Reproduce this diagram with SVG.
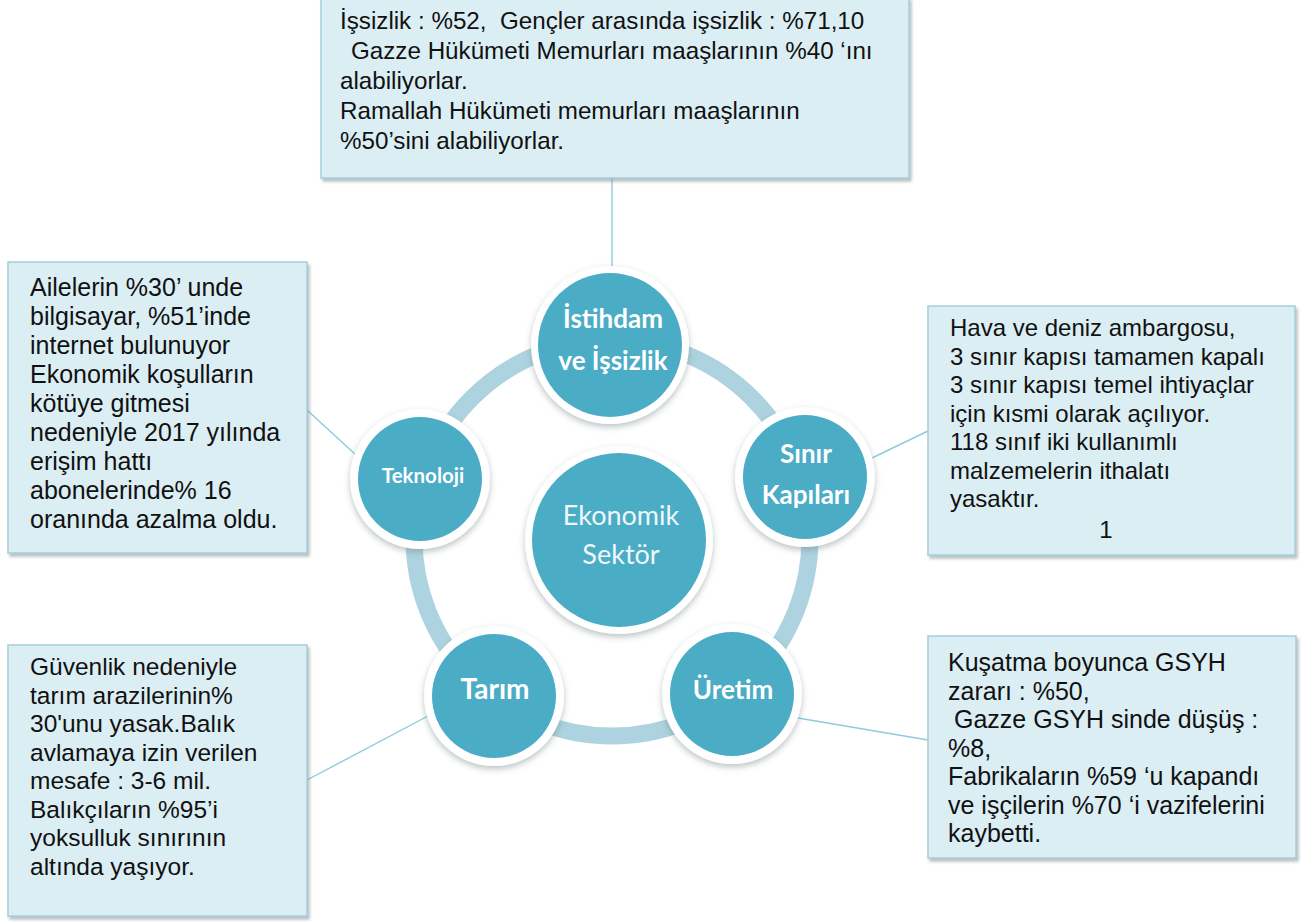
<svg xmlns="http://www.w3.org/2000/svg" width="1301" height="922" viewBox="0 0 1301 922">
<defs>
<filter id="bsh" x="-5%" y="-5%" width="115%" height="115%"><feDropShadow dx="2" dy="3" stdDeviation="1.5" flood-color="#7f8c90" flood-opacity="0.55"/></filter>
<filter id="csh" x="-20%" y="-20%" width="140%" height="140%"><feDropShadow dx="0" dy="3" stdDeviation="3" flood-color="#6b7b80" flood-opacity="0.45"/></filter>
<style>
.box{fill:#dbeef4;stroke:#a6cedb;stroke-width:1.5;filter:url(#bsh)}
.bt{font-family:"Liberation Sans",Arial,sans-serif;font-size:24.5px;fill:#111}
.con{stroke:#8ecbdc;stroke-width:1.4;fill:none}
.ring{fill:none;stroke:#acd3df;stroke-width:17}
.wo{fill:#ffffff;filter:url(#csh)}
.teal{fill:#4bacc6}
.nl{font-family:Lato,"Open Sans",sans-serif;font-weight:bold;fill:#ffffff;text-anchor:middle}
.cl{font-family:Lato,"Open Sans",sans-serif;fill:#eef8fb;text-anchor:middle;font-size:27px}
</style>
</defs>
<rect width="1301" height="922" fill="#ffffff"/>
<g id="connectors">
<line class="con" x1="612" y1="178" x2="612" y2="268"/>
<line class="con" x1="307" y1="410" x2="356" y2="455"/>
<line class="con" x1="928" y1="431" x2="872" y2="458"/>
<line class="con" x1="307" y1="780" x2="428" y2="716"/>
<line class="con" x1="928" y1="740" x2="798" y2="718"/>
</g>
<circle id="ring" class="ring" cx="612" cy="538" r="198"/>
<g id="node-center">
<circle class="wo" cx="619" cy="540" r="94"/>
<circle class="teal" cx="619" cy="540" r="87"/>
<text class="cl" x="621" y="525">Ekonomik</text>
<text class="cl" x="621" y="564">Sektör</text>
</g>
<g id="node-istihdam">
<circle class="wo" cx="610" cy="345" r="79"/>
<circle class="teal" cx="610" cy="345" r="72"/>
<text class="nl" x="613" y="328" font-size="26">İstihdam</text>
<text class="nl" x="613" y="370" font-size="26">ve İşsizlik</text>
</g>
<g id="node-sinir">
<circle class="wo" cx="805" cy="477" r="70"/>
<circle class="teal" cx="805" cy="477" r="62"/>
<text class="nl" x="806" y="463" font-size="26">Sınır</text>
<text class="nl" x="806" y="504" font-size="26">Kapıları</text>
</g>
<g id="node-uretim">
<circle class="wo" cx="732" cy="694" r="70"/>
<circle class="teal" cx="732" cy="694" r="62"/>
<text class="nl" x="733" y="699" font-size="26">Üretim</text>
</g>
<g id="node-tarim">
<circle class="wo" cx="494" cy="696" r="70"/>
<circle class="teal" cx="494" cy="696" r="62"/>
<text class="nl" x="495" y="699" font-size="28">Tarım</text>
</g>
<g id="node-teknoloji">
<circle class="wo" cx="420" cy="479" r="70"/>
<circle class="teal" cx="420" cy="479" r="62"/>
<text class="nl" x="423" y="483" font-size="20.5">Teknoloji</text>
</g>
<g id="box-istihdam">
<rect class="box" x="321" y="-2" width="588" height="180"/>
<g font-size="24.2">
<text class="bt" x="340" y="29" style="font-size:24.2px" xml:space="preserve">İşsizlik : %52,  Gençler arasında işsizlik : %71,10</text>
<text class="bt" x="351" y="59" style="font-size:24.2px">Gazze Hükümeti Memurları maaşlarının %40 ‘ını</text>
<text class="bt" x="340" y="89" style="font-size:24.2px">alabiliyorlar.</text>
<text class="bt" x="340" y="119" style="font-size:24.2px">Ramallah Hükümeti memurları maaşlarının</text>
<text class="bt" x="340" y="149" style="font-size:24.2px">%50’sini alabiliyorlar.</text>
</g>
</g>
<g id="box-teknoloji">
<rect class="box" x="8" y="262" width="299" height="291"/>
<text class="bt" x="30" y="296" style="font-size:25px">Ailelerin %30’ unde</text>
<text class="bt" x="30" y="325" style="font-size:25px">bilgisayar, %51’inde</text>
<text class="bt" x="30" y="354" style="font-size:25px">internet bulunuyor</text>
<text class="bt" x="30" y="383" style="font-size:25px">Ekonomik koşulların</text>
<text class="bt" x="30" y="412" style="font-size:25px">kötüye gitmesi</text>
<text class="bt" x="30" y="441" style="font-size:25px">nedeniyle 2017 yılında</text>
<text class="bt" x="30" y="470" style="font-size:25px">erişim hattı</text>
<text class="bt" x="30" y="499" style="font-size:25px">abonelerinde% 16</text>
<text class="bt" x="30" y="528" style="font-size:25px">oranında azalma oldu.</text>
</g>
<g id="box-sinir">
<rect class="box" x="928" y="306" width="367" height="249"/>
<text class="bt" x="950" y="336" style="font-size:24px">Hava ve deniz ambargosu,</text>
<text class="bt" x="950" y="364.5" style="font-size:24px">3 sınır kapısı tamamen kapalı</text>
<text class="bt" x="950" y="393" style="font-size:24px">3 sınır kapısı temel ihtiyaçlar</text>
<text class="bt" x="950" y="421.5" style="font-size:24px">için kısmi olarak açılıyor.</text>
<text class="bt" x="950" y="450" style="font-size:24px">118 sınıf iki kullanımlı</text>
<text class="bt" x="950" y="478.5" style="font-size:24px">malzemelerin ithalatı</text>
<text class="bt" x="950" y="507" style="font-size:24px">yasaktır.</text>
<text class="bt" x="1106" y="538" text-anchor="middle" style="font-size:24px">1</text>
</g>
<g id="box-tarim">
<rect class="box" x="8" y="645" width="299" height="271"/>
<text class="bt" x="30" y="675">Güvenlik nedeniyle</text>
<text class="bt" x="30" y="703.5">tarım arazilerinin%</text>
<text class="bt" x="30" y="732">30'unu yasak.Balık</text>
<text class="bt" x="30" y="760.5">avlamaya izin verilen</text>
<text class="bt" x="30" y="789">mesafe : 3-6 mil.</text>
<text class="bt" x="30" y="817.5">Balıkçıların %95’i</text>
<text class="bt" x="30" y="846">yoksulluk sınırının</text>
<text class="bt" x="30" y="874.5">altında yaşıyor.</text>
</g>
<g id="box-uretim">
<rect class="box" x="928" y="636" width="368" height="222"/>
<text class="bt" x="948" y="671" style="font-size:25px">Kuşatma boyunca GSYH</text>
<text class="bt" x="948" y="699.5" style="font-size:25px">zararı : %50,</text>
<text class="bt" x="954" y="728" style="font-size:25px">Gazze GSYH sinde düşüş :</text>
<text class="bt" x="948" y="756.5" style="font-size:25px">%8,</text>
<text class="bt" x="948" y="785" style="font-size:25px">Fabrikaların %59 ‘u kapandı</text>
<text class="bt" x="948" y="813.5" style="font-size:25px">ve işçilerin %70 ‘i vazifelerini</text>
<text class="bt" x="948" y="842" style="font-size:25px">kaybetti.</text>
</g>
</svg>
